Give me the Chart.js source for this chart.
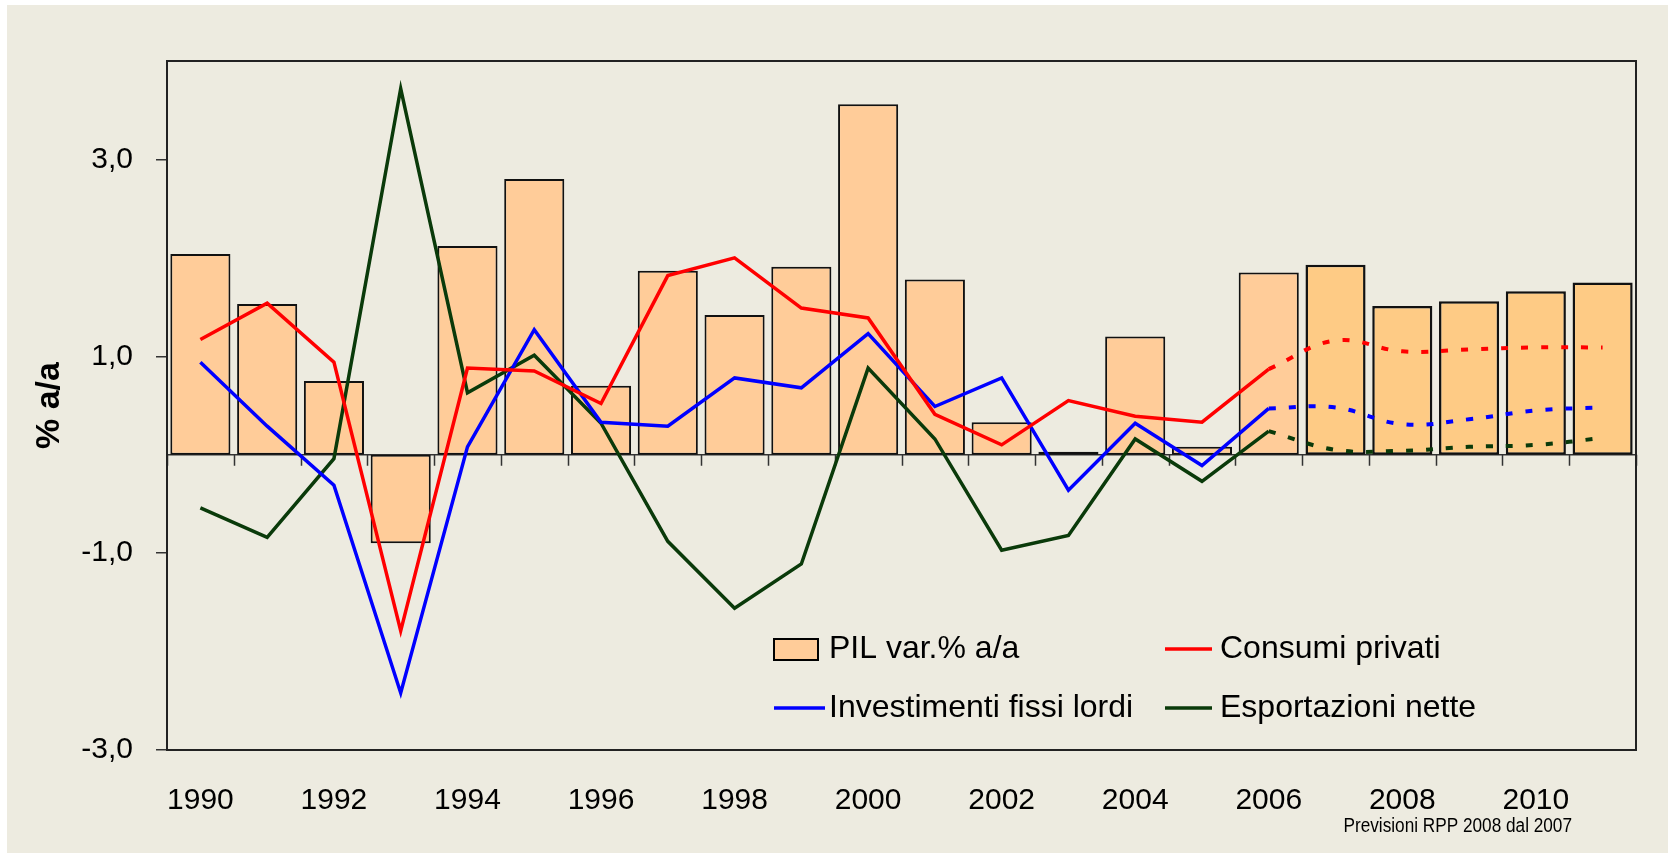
<!DOCTYPE html>
<html lang="it">
<head>
  <meta charset="UTF-8">
  <meta name="viewport" content="width=device-width, initial-scale=1.0">
  <title>PIL e componenti</title>
  <script src="https://cdn.jsdelivr.net/npm/chart.js"></script>
  <style>
    body { margin: 0; background: #fff; }
    #wrap { position: absolute; left: 7px; top: 5px; width: 1661px; height: 848px; background: #edebe0; }
  </style>
</head>
<body>
  <div id="wrap"><canvas id="myChart"></canvas></div>

  <script>
    const years = ['1990', '1991', '1992', '1993', '1994', '1995', '1996', '1997', '1998', '1999', '2000',
                   '2001', '2002', '2003', '2004', '2005', '2006', '2007', '2008', '2009', '2010', '2011'];
    const pil = [2.04, 1.53, 0.75, -0.90, 2.12, 2.80, 0.70, 1.87, 1.42, 1.91, 3.56,
                 1.78, 0.33, 0.03, 1.20, 0.08, 1.85, 1.93, 1.51, 1.56, 1.66, 1.75];
    const consumi = [1.17, 1.54, 0.94, -1.79, 0.88, 0.85, 0.52, 1.82, 2.00, 1.49, 1.39,
                     0.41, 0.10, 0.55, 0.39, 0.33, 0.87, 1.16, 1.05, 1.07, 1.09, 1.09];
    const investimenti = [0.94, 0.29, -0.31, -2.42, 0.08, 1.27, 0.33, 0.29, 0.78, 0.68, 1.23,
                          0.49, 0.78, -0.36, 0.32, -0.11, 0.47, 0.48, 0.31, 0.36, 0.45, 0.48];
    const esportazioni = [-0.54, -0.84, -0.04, 3.72, 0.63, 1.01, 0.32, -0.88, -1.56, -1.11, 0.88,
                          0.16, -0.97, -0.82, 0.16, -0.27, 0.24, 0.05, 0.04, 0.08, 0.10, 0.17];
    const yTicks = [-3, -1, 1, 3];
    const lastActual = 16; // 2006, poi previsioni

    const RED = '#ff0000';
    const BLUE = '#0000ff';
    const GREEN = '#0a3a0a';
    const FONT = "'Liberation Sans', Arial, sans-serif";

    const actual = arr => arr.map((v, i) => i <= lastActual ? v : null);
    const forecast = arr => arr.map((v, i) => i >= lastActual ? v : null);

    function lineSet(label, values, color) {
      return [
        {
          type: 'line', label: label, data: actual(values),
          borderColor: color, borderWidth: 3.5, pointRadius: 0, tension: 0, order: 1
        },
        {
          type: 'line', label: label + ' (prev.)', data: forecast(values),
          borderColor: color, borderWidth: 4, borderDash: [7, 13], pointRadius: 0,
          tension: 0.4, order: 1
        }
      ];
    }

    const frame = {
      id: 'frame',
      beforeDatasetsDraw(chart) {
        const {ctx, chartArea, scales: {x, y}} = chart;
        const y0 = y.getPixelForValue(0);
        const half = (x.getPixelForValue(1) - x.getPixelForValue(0)) / 2;
        ctx.save();
        ctx.strokeStyle = '#333';
        ctx.lineWidth = 1.5;
        ctx.beginPath();
        ctx.moveTo(chartArea.left, y0);
        ctx.lineTo(chartArea.right, y0);
        for (let i = 0; i <= years.length; i++) {
          const px = Math.round(x.getPixelForValue(i) - half) + 0.5;
          ctx.moveTo(px, y0);
          ctx.lineTo(px, y0 + 11);
        }
        ctx.stroke();
        ctx.restore();
      },
      afterDraw(chart) {
        const {ctx, chartArea} = chart;
        ctx.save();
        ctx.strokeStyle = '#222';
        ctx.lineWidth = 2;
        ctx.strokeRect(chartArea.left, chartArea.top, chartArea.right - chartArea.left, chartArea.bottom - chartArea.top);

        // legenda
        const col = [chartArea.left + 607, chartArea.left + 998];
        const row = [chartArea.bottom - 101, chartArea.bottom - 42];
        ctx.font = '32px ' + FONT;
        ctx.fillStyle = '#000';
        ctx.textBaseline = 'middle';
        ctx.textAlign = 'left';

        ctx.fillStyle = '#ffcc99';
        ctx.fillRect(col[0], row[0] - 10, 44, 21);
        ctx.lineWidth = 2;
        ctx.strokeStyle = '#000';
        ctx.strokeRect(col[0], row[0] - 10, 44, 21);
        ctx.fillStyle = '#000';
        ctx.fillText('PIL var.% a/a', col[0] + 55, row[0]);

        const lines = [
          ['Consumi privati', RED, col[1], row[0], 47],
          ['Investimenti fissi lordi', BLUE, col[0], row[1], 51],
          ['Esportazioni nette', GREEN, col[1], row[1], 47]
        ];
        lines.forEach(([txt, color, lx, ly, len]) => {
          ctx.strokeStyle = color;
          ctx.lineWidth = 3.5;
          ctx.beginPath();
          ctx.moveTo(lx, ly);
          ctx.lineTo(lx + len, ly);
          ctx.stroke();
          ctx.fillText(txt, lx + 55, ly);
        });

        // nota (carattere stretto)
        ctx.font = '20px ' + FONT;
        ctx.textAlign = 'right';
        ctx.translate(chartArea.right - 64, 821);
        ctx.scale(0.86, 1);
        ctx.fillText('Previsioni RPP 2008 dal 2007', 0, 0);
        ctx.restore();
      }
    };

    const ctx = document.getElementById('myChart');

    new Chart(ctx, {
      type: 'bar',
      data: {
        labels: years,
        datasets: [
          ...lineSet('Consumi privati', consumi, RED),
          ...lineSet('Investimenti fissi lordi', investimenti, BLUE),
          ...lineSet('Esportazioni nette', esportazioni, GREEN),
          {
            label: 'PIL var.% a/a',
            data: pil,
            backgroundColor: pil.map((v, i) => i > lastActual ? '#fecb85' : '#ffcc99'),
            borderColor: '#111',
            borderWidth: pil.map((v, i) => i > lastActual ? 2.5 : 2),
            borderSkipped: false,
            barPercentage: 0.9,
            categoryPercentage: 1,
            order: 2
          }
        ]
      },
      options: {
        responsive: true,
        maintainAspectRatio: false,
        animation: false,
        devicePixelRatio: 1,
        layout: { padding: { top: 56, right: 32, left: 0, bottom: 0 } },
        plugins: {
          legend: { display: false },
          tooltip: { enabled: false }
        },
        scales: {
          x: {
            offset: true,
            grid: { display: false, drawTicks: false },
            border: { display: false },
            ticks: {
              autoSkip: false,
              maxRotation: 0,
              padding: 33,
              color: '#000',
              font: { family: FONT, size: 30 },
              callback: (v, i) => i % 2 === 0 ? years[i] : ''
            },
            afterFit(scale) { scale.height = 103; }
          },
          y: {
            min: -3,
            max: 4,
            afterBuildTicks(scale) { scale.ticks = yTicks.map(v => ({value: v})); },
            grid: { drawOnChartArea: false, drawTicks: true, tickLength: 11, color: '#333', lineWidth: 1.5 },
            border: { display: false },
            ticks: {
              padding: 23,
              color: '#000',
              font: { family: FONT, size: 30 },
              callback: v => v.toFixed(1).replace('.', ',')
            },
            title: {
              display: true,
              text: '% a/a',
              color: '#000',
              font: { family: FONT, size: 34, weight: 'bold' },
              padding: { top: 22, bottom: 0 }
            },
            afterFit(scale) { scale.width = 160; }
          }
        }
      },
      plugins: [frame]
    });
  </script>
</body>
</html>
